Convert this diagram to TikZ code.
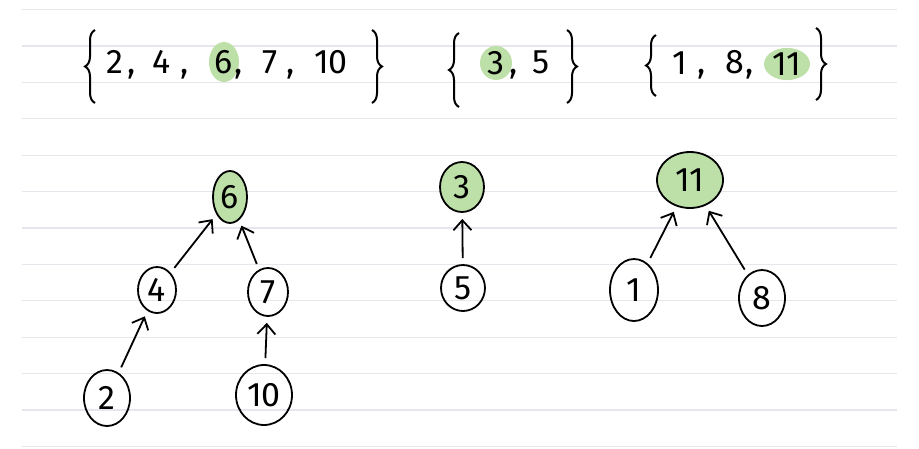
\documentclass[tikz,border=0pt]{standalone}
\usepackage{fontspec}
\setmainfont{Fira Sans}
\usepackage{tikz}
\usetikzlibrary{
  positioning,
  arrows.meta,
  shapes.geometric,
  decorations.pathreplacing
}
\definecolor{ruleGray}{HTML}{E6E6EC}
\definecolor{rootGreen}{HTML}{BDE0A8}

\tikzset{
  ruleline/.style={ruleGray, line width=1.2pt},
  setnum/.style={font=\fontsize{34}{36}\selectfont, inner sep=0pt},
  setmark/.style={setnum, ellipse, fill=rootGreen},
  setbrace/.style={decorate, decoration={brace, amplitude=10pt}, line width=2pt},
  elem/.style={ellipse, draw, line width=1.8pt, inner sep=0pt, font=\fontsize{34}{36}\selectfont},
  root/.style={elem, fill=rootGreen},
  link/.style={-{Straight Barb[length=10pt, width=18pt]}, line width=1.8pt, shorten <=6pt, shorten >=6pt}
}

\begin{document}
\begin{tikzpicture}[x=1pt, y=-1pt]
      \useasboundingbox (0,0) rectangle (919,448);

      % Linien des Papiers
      \foreach \k in {0,...,12}
        \draw[ruleline] (22,{9.5+36.4*\k}) -- (897,{9.5+36.4*\k});

      % Menge {2,4,6,7,10}
      \draw[setbrace] (95,103) -- (95,30);
      \draw[setbrace] (372,30) -- (372,103);
      \node[setmark, minimum width=30pt, minimum height=40pt] (s6) at (224,62) {6};
      \foreach \x/\t in {115/2, 162/4, 270/7, 331/10}
        \node[setnum] (s\t) at (\x,62) {\t};
      \foreach \x in {132,185,239,291}
        \node[setnum] (c\x) at (\x,74) {,};

      % Menge {3,5}
      \draw[setbrace] (459,107) -- (459,33);
      \draw[setbrace] (567,30) -- (567,103);
      \node[setmark, minimum width=32pt, minimum height=34pt] (s3) at (496,63) {3};
      \node[setnum] (s5) at (541,62) {5};
      \node[setnum] (c514) at (514,74) {,};

      % Menge {1,8,11}
      \draw[setbrace] (656,96) -- (656,35);
      \draw[setbrace] (816,28) -- (816,100);
      \node[setmark, minimum width=46pt, minimum height=32pt] (s11) at (787,64) {11};
      \node[setnum] (s1) at (680,63) {1};
      \node[setnum] (s8) at (735,62) {8};
      \foreach \x in {702,750}
        \node[setnum] (c\x) at (\x,74) {,};

      % Baum mit Wurzel 6
      \node[root, minimum width=34pt, minimum height=52pt] (t6) at (230,197) {6};
      \node[elem, minimum width=38pt, minimum height=46pt] (t4) at (157,290) {4};
      \node[elem, minimum width=40pt, minimum height=48pt] (t7) at (268,292) {7};
      \node[elem, minimum width=46pt, minimum height=56pt] (t2) at (107,398) {2};
      \node[elem, minimum width=56pt, minimum height=60pt] (t10) at (264,395) {10};
      \draw[link] (t4) -- (t6);
      \draw[link] (t7) -- (t6);
      \draw[link] (t2) -- (t4);
      \draw[link] (t10) -- (t7);

      % Baum mit Wurzel 3
      \node[root, minimum width=44pt, minimum height=50pt] (t3) at (462,187) {3};
      \node[elem, minimum width=44pt, minimum height=46pt] (t5) at (463,288) {5};
      \draw[link] (t5) -- (t3);

      % Baum mit Wurzel 11
      \node[root, minimum width=66pt, minimum height=56pt] (t11) at (690,180) {11};
      \node[elem, minimum width=48pt, minimum height=62pt] (t1) at (634,290) {1};
      \node[elem, minimum width=46pt, minimum height=56pt] (t8) at (762,298) {8};
      \draw[link] (t1) -- (t11);
      \draw[link] (t8) -- (t11);
    \end{tikzpicture}
\end{document}
